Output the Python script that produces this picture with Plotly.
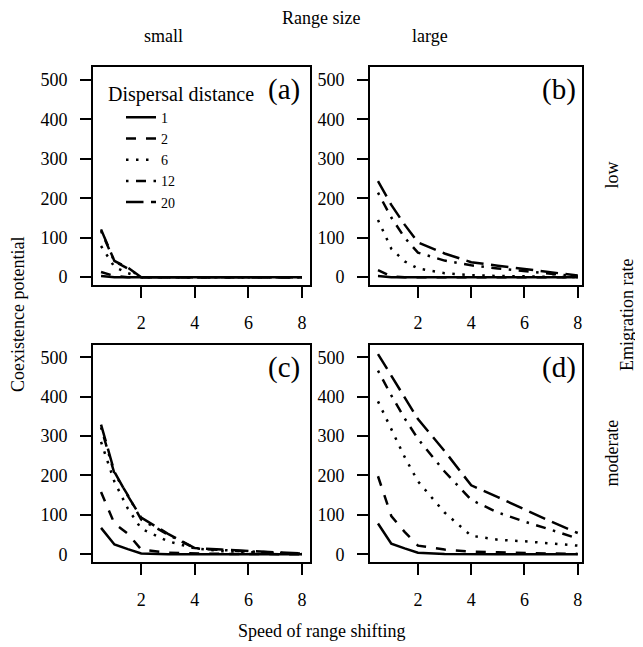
import plotly.graph_objects as go

# ---- data ----
speed = [0.5, 1, 1.5, 2, 3, 4, 5, 6, 7, 8]
dispersal = ["1", "2", "6", "12", "20"]

panel_a = {
    "1":  [3, 0, 0, 0, 0, 0, 0, 0, 0, 0],
    "2":  [13, 3, 0, 0, 0, 0, 0, 0, 0, 0],
    "6":  [79, 26, 10, 0, 0, 0, 0, 0, 0, 0],
    "12": [117, 40, 22, 0, 0, 0, 0, 0, 0, 0],
    "20": [121, 41, 24, 0, 0, 0, 0, 0, 0, 0],
}
panel_b = {
    "1":  [3, 0, 0, 0, 0, 0, 0, 0, 0, 0],
    "2":  [18, 2, 0, 0, 0, 0, 0, 0, 0, 0],
    "6":  [145, 72, 40, 22, 10, 5, 3, 2, 1, 0],
    "12": [214, 151, 100, 62, 42, 30, 22, 15, 8, 2],
    "20": [243, 183, 133, 88, 60, 38, 29, 21, 13, 4],
}
panel_c = {
    "1":  [67, 25, 13, 2, 0, 0, 0, 0, 0, 0],
    "2":  [158, 78, 52, 12, 4, 2, 1, 1, 0, 0],
    "6":  [285, 184, 116, 65, 33, 15, 8, 5, 3, 1],
    "12": [322, 205, 150, 88, 50, 15, 11, 7, 4, 2],
    "20": [329, 209, 148, 93, 52, 16, 12, 8, 5, 2],
}
panel_d = {
    "1":  [78, 27, 15, 4, 1, 0, 0, 0, 0, 0],
    "2":  [198, 97, 57, 22, 12, 7, 5, 3, 2, 1],
    "6":  [388, 317, 247, 185, 106, 47, 37, 33, 28, 22],
    "12": [466, 403, 345, 293, 210, 138, 106, 83, 62, 40],
    "20": [508, 452, 398, 343, 262, 175, 145, 113, 83, 54],
}
panel_letters = ["(a)", "(b)", "(c)", "(d)"]
y_ticks = [0, 100, 200, 300, 400, 500]
x_ticks = [2, 4, 6, 8]

# ---- styling ----
OFF = 8                      # default page body margin
W, H = 643 - OFF, 647 - OFF  # figure size inside the window
FONT = "Liberation Serif"
dashes = {
    "1": "solid",
    "2": "10px,10px",
    "6": "2.5px,7.5px",
    "12": "2.5px,7.5px,10px,7.5px",
    "20": "17.5px,7.5px",
}

def px_x(p):
    return (p - OFF) / W

def px_y(p):
    return 1 - (p - OFF) / H

panels = [panel_a, panel_b, panel_c, panel_d]
xdom = [(93, 310), (370, 582), (93, 310), (370, 582)]
ydom = [(67, 286), (67, 286), (346, 564), (346, 564)]
xr = [[0.2, 8.3], [0.2, 8.16], [0.2, 8.3], [0.2, 8.16]]
yr = [[-20.2, 532.8], [-20.2, 532.8], [-20.2, 531.1], [-20.2, 531.1]]

fig = go.Figure()
layout = {}
annotations = []
for i, pdata in enumerate(panels):
    n = "" if i == 0 else str(i + 1)
    for d in dispersal:
        fig.add_trace(go.Scatter(
            x=speed, y=pdata[d], mode="lines", name=d,
            xaxis="x" + n, yaxis="y" + n,
            line=dict(color="black", width=2.5, dash=dashes[d]),
            showlegend=(i == 0),
        ))
    axcommon = dict(showline=True, linecolor="black", linewidth=2, mirror=True,
                    ticks="outside", ticklen=11, tickwidth=2, tickcolor="black",
                    showgrid=False, zeroline=False,
                    tickfont=dict(family=FONT, size=18, color="black"))
    layout["xaxis" + n] = dict(axcommon, domain=[px_x(xdom[i][0]), px_x(xdom[i][1])],
                               range=xr[i], tickvals=x_ticks, anchor="y" + n,
                               ticklabelstandoff=9)
    layout["yaxis" + n] = dict(axcommon, domain=[px_y(ydom[i][1]), px_y(ydom[i][0])],
                               range=yr[i], tickvals=y_ticks, anchor="x" + n,
                               ticklabelstandoff=9)
    annotations.append(dict(x=8, y=475, xref="x" + n, yref="y" + n, text=panel_letters[i],
                            xanchor="right", yanchor="middle", showarrow=False,
                            font=dict(family=FONT, size=29, color="black")))

def txt(x, y, s, size=18, angle=0, xanchor="center"):
    annotations.append(dict(x=px_x(x), y=px_y(y), xref="paper", yref="paper", text=s,
                            showarrow=False, textangle=angle, xanchor=xanchor, yanchor="middle",
                            font=dict(family=FONT, size=size, color="black")))

txt(321, 18, "Range size")
txt(163, 36, "small")
txt(430, 36, "large")
txt(18, 316, "Coexistence potential", angle=-90)
txt(321, 633, "Speed of range shifting")
txt(612, 176, "low", angle=-90)
txt(627, 316, "Emigration rate", angle=-90)
txt(612, 455, "moderate", angle=-90)
txt(106, 95, "Dispersal distance", size=20, xanchor="left")

fig.update_layout(**layout)
fig.update_layout(
    width=W, height=H, margin=dict(l=0, r=0, t=0, b=0),
    paper_bgcolor="white", plot_bgcolor="white",
    annotations=annotations,
    font=dict(family=FONT, color="black"),
    legend=dict(x=px_x(121), y=px_y(102), xanchor="left", yanchor="top",
                bgcolor="rgba(0,0,0,0)", tracegroupgap=0,
                font=dict(family=FONT, size=14, color="black")),
)
fig.write_html("out.html")
